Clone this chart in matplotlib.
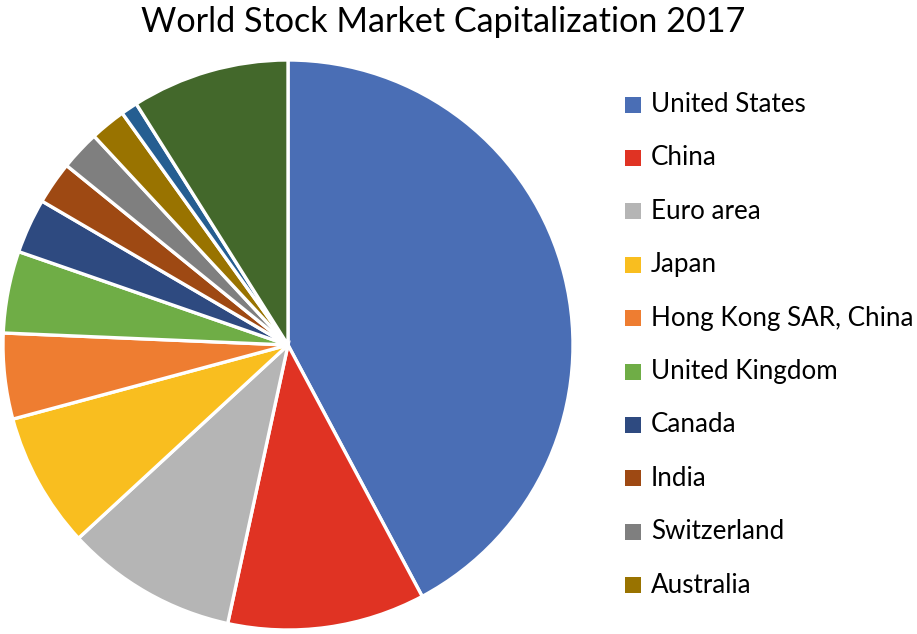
import matplotlib
matplotlib.use('Agg')
import matplotlib.pyplot as plt
from matplotlib.patches import Rectangle

plt.rcParams['font.family'] = ['Lato', 'DejaVu Sans']

# share of world market cap (%)
countries = ['United States', 'China', 'Euro area', 'Japan', 'Hong Kong SAR, China',
             'United Kingdom', 'Canada', 'India', 'Switzerland', 'Australia',
             'Other (small)', 'Rest of world']
shares = [42.2, 11.2, 9.75, 7.67, 4.86, 4.64, 3.11, 2.42, 2.25, 2.03, 0.94, 8.94]
colors = ['#4A6EB5', '#E03323', '#B5B5B5', '#F9BE1F', '#EE7D31', '#6FAD46',
          '#2E4A80', '#9E4913', '#7F7F7F', '#997300', '#255E91', '#43682B']
n_legend = 10  # the original legend is cut off after Australia

W, H = 917, 634
fig = plt.figure(figsize=(W/100, H/100), dpi=100)

cx, cy, r = 288, 345, 285
ax = fig.add_axes([(cx - r)/W, (H - cy - r)/H, 2*r/W, 2*r/H])
wedges, _ = ax.pie(shares, colors=colors, startangle=90, counterclock=False,
                   radius=1, wedgeprops=dict(edgecolor='white', linewidth=2.4))
ax.set_xlim(-1.0, 1.0)
ax.set_ylim(-1.0, 1.0)
ax.set_aspect('equal')
ax.axis('off')

fig.text(443/W, 1 - 22/H, 'World Stock Market Capitalization 2017',
         ha='center', va='center', fontsize=24.6)

# legend drawn by hand to match row spacing
y0, dy = 104.5, 53.4
for i in range(n_legend):
    y = y0 + i*dy
    fig.patches.append(Rectangle((625/W, 1 - (y + 8)/H), 16/W, 16/H,
                                 transform=fig.transFigure,
                                 facecolor=wedges[i].get_facecolor(),
                                 edgecolor='none'))
    fig.text(651/W, 1 - y/H, countries[i], ha='left', va='center', fontsize=18.7)

fig.savefig('out.png', dpi=100)
